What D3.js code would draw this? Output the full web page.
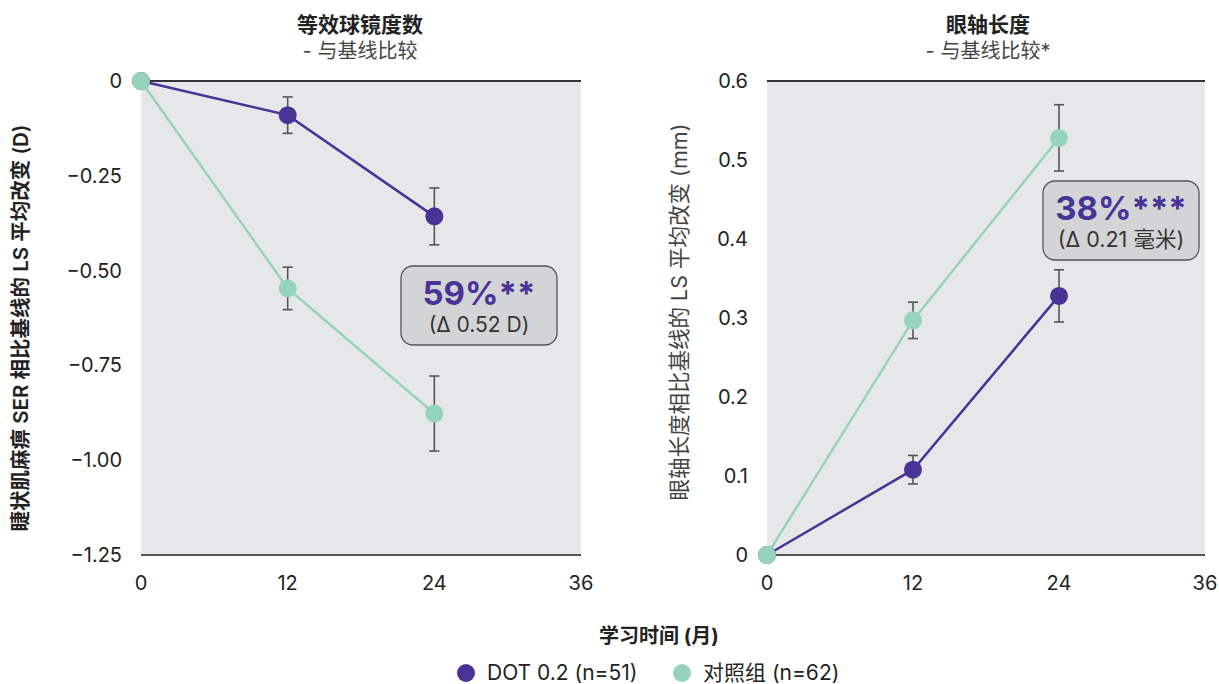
<!DOCTYPE html>
<html>
<head>
<meta charset="utf-8">
<script src="https://cdn.jsdelivr.net/npm/d3@7"></script>
<style>
  body { margin: 0; background: #fff; }
  text { font-family: Inter, "Noto Sans CJK SC", sans-serif; }
</style>
</head>
<body>
<script>
const months = [0, 12, 24];
const xTicks = [0, 12, 24, 36];

// SER (D)
const serDot = [0, -0.09, -0.357];
const serDotErr = [0, 0.048, 0.075];
const serCtrl = [0, -0.547, -0.877];
const serCtrlErr = [0, 0.056, 0.099];
const serTicks = [0, -0.25, -0.5, -0.75, -1.0, -1.25];
const serTickLabels = ["0", "\u22120.25", "\u22120.50", "\u22120.75", "\u22121.00", "\u22121.25"];

// Axial length (mm)
const alDot = [0, 0.108, 0.328];
const alDotErr = [0, 0.018, 0.033];
const alCtrl = [0, 0.297, 0.528];
const alCtrlErr = [0, 0.023, 0.042];
const alTicks = [0, 0.1, 0.2, 0.3, 0.4, 0.5, 0.6];
const alTickLabels = ["0", "0.1", "0.2", "0.3", "0.4", "0.5", "0.6"];

const purple = "#4a3397";
const teal = "#95d4bb";

const svg = d3.select("body").append("svg")
  .attr("width", 1219).attr("height", 684);

function drawPanel(opt) {
  const x = d3.scaleLinear().domain([0, 36]).range([opt.x0, opt.x1]);
  const y = d3.scaleLinear().domain(opt.domain).range([opt.yTop, opt.yBot]);
  const g = svg.append("g");

  g.append("rect")
    .attr("x", x(0)).attr("y", opt.yTop)
    .attr("width", x(36) - x(0)).attr("height", opt.yBot - opt.yTop)
    .attr("fill", "#e6e7e9");

  g.append("line").attr("x1", x(0)).attr("x2", x(36))
    .attr("y1", y(opt.domain[0])).attr("y2", y(opt.domain[0]))
    .attr("stroke", "#333").attr("stroke-width", 2);
  g.append("line").attr("x1", x(0)).attr("x2", x(36))
    .attr("y1", y(opt.domain[1])).attr("y2", y(opt.domain[1]))
    .attr("stroke", "#555").attr("stroke-width", 2);

  // y tick labels
  g.selectAll(".yt").data(opt.ticks).enter().append("text")
    .attr("x", opt.x0 - 19).attr("y", d => y(d) + 7)
    .attr("text-anchor", "end").attr("font-size", 20).attr("fill", "#222")
    .text((d, i) => opt.tickLabels[i]);

  // x tick labels
  g.selectAll(".xt").data(xTicks).enter().append("text")
    .attr("x", d => x(d)).attr("y", 590)
    .attr("text-anchor", "middle").attr("font-size", 20).attr("fill", "#222")
    .text(d => d);

  // titles
  g.append("text").attr("x", opt.titleX).attr("y", 32)
    .attr("text-anchor", "middle").attr("font-size", 21).attr("font-weight", "bold")
    .attr("fill", "#222").text(opt.title);
  g.append("text").attr("x", opt.titleX).attr("y", 58)
    .attr("text-anchor", "middle").attr("font-size", 20).attr("fill", "#444")
    .text(opt.subtitle);

  // y axis title
  g.append("text")
    .attr("transform", `translate(${opt.yTitleX},${opt.yTitleY}) rotate(-90)`)
    .attr("text-anchor", "middle").attr("font-size", opt.yTitleSize)
    .attr("font-weight", opt.yTitleBold ? 600 : "normal")
    .attr("fill", opt.yTitleBold ? "#222" : "#444")
    .text(opt.yTitle);

  const line = d3.line().x((d, i) => x(months[i])).y(d => y(d));
  const series = [
    { vals: opt.ctrl, err: opt.ctrlErr, color: teal },
    { vals: opt.dot, err: opt.dotErr, color: purple }
  ];
  if (opt.dotFirst) series.reverse();

  series.forEach(s => {
    g.append("path").datum(s.vals).attr("d", line)
      .attr("fill", "none").attr("stroke", s.color).attr("stroke-width", 2.5);
  });
  series.forEach(s => {
    const pts = s.vals.map((v, i) => ({ m: months[i], v: v, e: s.err[i] })).filter(p => p.e > 0);
    const eb = g.selectAll(null).data(pts).enter().append("g")
      .attr("stroke", "#555").attr("stroke-width", 1.6);
    eb.append("line").attr("x1", d => x(d.m)).attr("x2", d => x(d.m))
      .attr("y1", d => y(d.v - d.e)).attr("y2", d => y(d.v + d.e));
    eb.append("line").attr("x1", d => x(d.m) - 5).attr("x2", d => x(d.m) + 5)
      .attr("y1", d => y(d.v - d.e)).attr("y2", d => y(d.v - d.e));
    eb.append("line").attr("x1", d => x(d.m) - 5).attr("x2", d => x(d.m) + 5)
      .attr("y1", d => y(d.v + d.e)).attr("y2", d => y(d.v + d.e));
  });
  // control circles drawn last so the shared origin point shows teal
  [series.find(s => s.color === purple), series.find(s => s.color === teal)].forEach(s => {
    g.selectAll(null).data(s.vals).enter().append("circle")
      .attr("cx", (d, i) => x(months[i])).attr("cy", d => y(d))
      .attr("r", 9).attr("fill", s.color);
  });

  // annotation box
  const b = opt.box;
  g.append("rect").attr("x", b.x).attr("y", b.y).attr("width", 156).attr("height", 79)
    .attr("rx", 12).attr("fill", "#d3d4d6").attr("stroke", "#555").attr("stroke-width", 1.3);
  g.append("text").attr("x", b.x + 78).attr("y", b.y + 39)
    .attr("text-anchor", "middle").attr("font-size", 33).attr("font-weight", "bold")
    .attr("fill", purple).text(b.big);
  g.append("text").attr("x", b.x + 78).attr("y", b.y + 66)
    .attr("text-anchor", "middle").attr("font-size", b.smallSize).attr("fill", "#333")
    .text(b.small);
}

drawPanel({
  x0: 141, x1: 581, yTop: 81, yBot: 555, domain: [0, -1.25],
  ticks: serTicks, tickLabels: serTickLabels,
  dot: serDot, dotErr: serDotErr, ctrl: serCtrl, ctrlErr: serCtrlErr,
  title: "等效球镜度数", subtitle: "- 与基线比较", titleX: 360,
  yTitle: "睫状肌麻痹 SER 相比基线的 LS 平均改变 (D)", yTitleX: 28, yTitleY: 328, yTitleSize: 20.5, yTitleBold: true,
  box: { x: 401, y: 266, big: "59%**", small: "(\u0394 0.52 D)", smallSize: 21 }
});

drawPanel({
  x0: 767, x1: 1205, yTop: 81, yBot: 555, domain: [0.6, 0],
  ticks: alTicks, tickLabels: alTickLabels,
  dot: alDot, dotErr: alDotErr, ctrl: alCtrl, ctrlErr: alCtrlErr,
  title: "眼轴长度", subtitle: "- 与基线比较*", titleX: 988,
  yTitle: "眼轴长度相比基线的 LS 平均改变 (mm)", yTitleX: 687, yTitleY: 312, yTitleSize: 21.5, yTitleBold: false,
  dotFirst: true,
  box: { x: 1043, y: 181, big: "38%***", small: "(\u0394 0.21 毫米)", smallSize: 21.5 }
});

// x axis title
svg.append("text").attr("x", 659).attr("y", 643)
  .attr("text-anchor", "middle").attr("font-size", 20).attr("font-weight", "bold")
  .attr("fill", "#222").text("学习时间 (月)");

// legend
const legendItems = [
  { label: "DOT 0.2 (n=51)", color: purple, x: 466 },
  { label: "对照组 (n=62)", color: teal, x: 682 }
];
const lg = svg.selectAll(".lg").data(legendItems).enter().append("g");
lg.append("circle").attr("cx", d => d.x).attr("cy", 673).attr("r", 9).attr("fill", d => d.color);
lg.append("text").attr("x", d => d.x + 21).attr("y", 680)
  .attr("font-size", 21).attr("fill", "#222").text(d => d.label);
</script>
</body>
</html>
